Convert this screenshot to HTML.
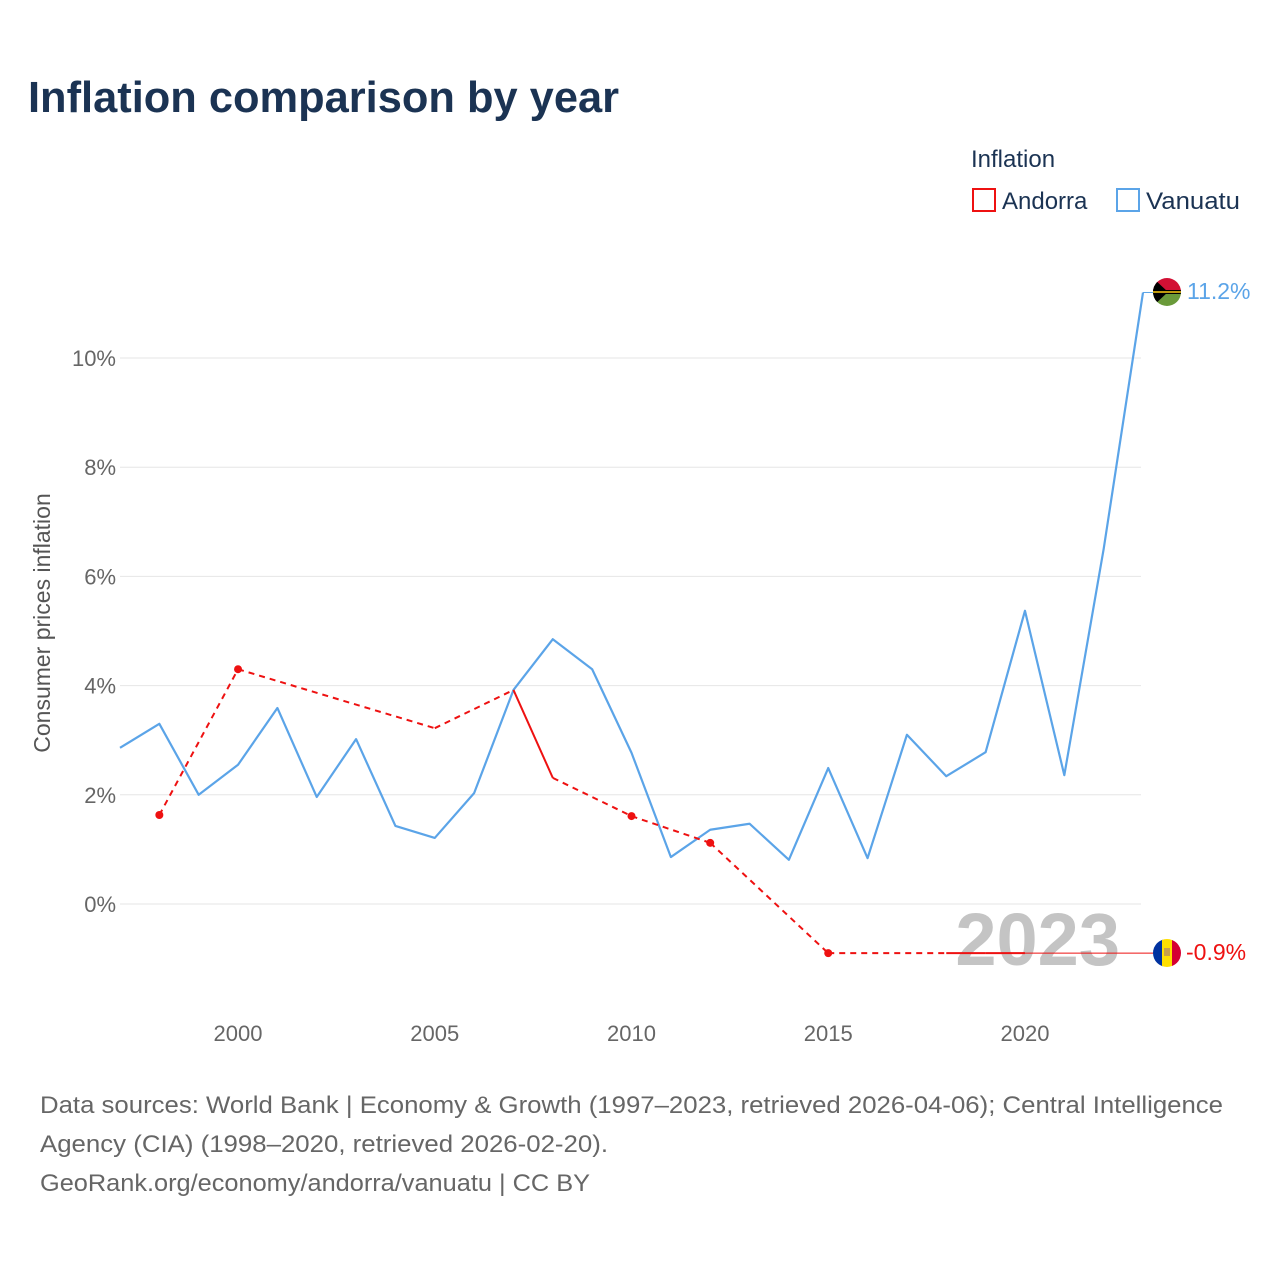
<!DOCTYPE html>
<html><head><meta charset="utf-8"><style>
body{margin:0;background:#fff;font-family:"Liberation Sans",sans-serif;}
svg text{font-family:"Liberation Sans",sans-serif;}
</style></head><body>
<svg width="1280" height="1280" xmlns="http://www.w3.org/2000/svg" id="chart">
<text x="28" y="112" font-size="44" font-weight="bold" fill="#1b3353" textLength="591" lengthAdjust="spacingAndGlyphs">Inflation comparison by year</text>
<g>
<text x="971" y="167" font-size="24" fill="#1b3353">Inflation</text>
<g><rect x="973" y="189" width="22" height="22" fill="none" stroke="#ee1111" stroke-width="2"/><text x="1002" y="209" font-size="24" fill="#1b3353">Andorra</text></g>
<g><rect x="1117" y="189" width="22" height="22" fill="none" stroke="#5ba4e8" stroke-width="2"/><text x="1146" y="209" font-size="24" fill="#1b3353" textLength="94" lengthAdjust="spacingAndGlyphs">Vanuatu</text></g>
</g>
<g id="grid"></g>
<g id="yticks"></g>
<g id="xticks"></g>
<text transform="translate(50,623) rotate(-90)" text-anchor="middle" font-size="23" fill="#555">Consumer prices inflation</text>
<text x="1120" y="965" text-anchor="end" font-size="74" font-weight="bold" fill="#c4c4c4">2023</text>
<g id="series"></g>
<g>
<clipPath id="c1"><circle cx="1167" cy="292" r="14"/></clipPath>
<g clip-path="url(#c1)"><rect x="1153" y="278" width="28" height="14" fill="#d21034"/><rect x="1153" y="292" width="28" height="14" fill="#6a9a3a"/><rect x="1153" y="290" width="28" height="4" fill="#000"/><polygon points="1153,278 1168,292 1153,306" fill="#000"/><line x1="1153" y1="292" x2="1181" y2="292" stroke="#fdce12" stroke-width="1.5"/></g></g>
<g>
<clipPath id="c2"><circle cx="1167" cy="953" r="14"/></clipPath>
<g clip-path="url(#c2)"><rect x="1153" y="939" width="10" height="28" fill="#0032a0"/><rect x="1162" y="939" width="10" height="28" fill="#fedf00"/><rect x="1172" y="939" width="10" height="28" fill="#d50032"/><rect x="1164" y="948" width="6" height="8" fill="#c7a04a"/></g></g>
<text x="1187" y="299" font-size="23" fill="#5ba4e8">11.2%</text>
<text x="1186" y="960" font-size="23" fill="#ee1111">-0.9%</text>
<g font-size="24" fill="#666">
<text x="40" y="1113" textLength="1183" lengthAdjust="spacingAndGlyphs">Data sources: World Bank | Economy &amp; Growth (1997–2023, retrieved 2026-04-06); Central Intelligence</text>
<text x="40" y="1152" textLength="568" lengthAdjust="spacingAndGlyphs">Agency (CIA) (1998–2020, retrieved 2026-02-20).</text>
<text x="40" y="1191" textLength="550" lengthAdjust="spacingAndGlyphs">GeoRank.org/economy/andorra/vanuatu | CC BY</text>
</g>
</svg>
<script>
const yTicks=[0,2,4,6,8,10];
const xTicks=[2000,2005,2010,2015,2020];
const vanYears=[1997,1998,1999,2000,2001,2002,2003,2004,2005,2006,2007,2008,2009,2010,2011,2012,2013,2014,2015,2016,2017,2018,2019,2020,2021,2022,2023];
const vanValues=[2.86,3.30,2.00,2.55,3.59,1.96,3.02,1.43,1.21,2.03,3.92,4.85,4.30,2.77,0.86,1.36,1.47,0.81,2.49,0.84,3.10,2.34,2.78,5.37,2.36,6.5,11.2];
const andYears=[1998,2000,2005,2007,2008,2010,2012,2015,2018,2019,2020];
const andValues=[1.63,4.30,3.22,3.92,2.31,1.61,1.12,-0.9,-0.9,-0.9,-0.9];
const NS="http://www.w3.org/2000/svg";
const X=y=>120+(y-1997)*(1143-120)/26;
const Y=v=>904-v*54.6;
function mk(t,a,p){const e=document.createElementNS(NS,t);for(const k in a)e.setAttribute(k,a[k]);p.appendChild(e);return e;}
const grid=document.getElementById('grid'),yt=document.getElementById('yticks'),xt=document.getElementById('xticks'),ser=document.getElementById('series');
yTicks.forEach(v=>{
 const l=mk('line',{x1:120,x2:1141,y1:Y(v),y2:Y(v),stroke:'#e6e6e6','stroke-width':1},grid);
 
 
 const t=mk('text',{x:116,y:Y(v)+8,'text-anchor':'end','font-size':22,fill:'#666'},yt);
 t.textContent=v+'%';
 
 
});
xTicks.forEach(y=>{
 const t=mk('text',{x:X(y),y:1041,'text-anchor':'middle','font-size':22,fill:'#666'},xt);
 t.textContent=y;
 
 
});
const vp=mk('polyline',{points:vanYears.map((y,i)=>X(y)+','+Y(vanValues[i])).join(' '),fill:'none',stroke:'#5ba4e8','stroke-width':2.2,'stroke-linejoin':'round'},ser);


const vc=mk('line',{x1:X(2023),y1:Y(vanValues[vanValues.length-1]),x2:1155,y2:Y(vanValues[vanValues.length-1]),stroke:'#5ba4e8','stroke-width':1},ser);


for(let i=0;i<andYears.length-1;i++){
 const gap=andYears[i+1]-andYears[i]>1;
 const s=mk('line',{x1:X(andYears[i]),y1:Y(andValues[i]),x2:X(andYears[i+1]),y2:Y(andValues[i+1]),stroke:'#ee1111','stroke-width':2,'stroke-dasharray':gap?'6,5':'none'},ser);
 
 
}
andYears.forEach((y,i)=>{
 const prev=andYears.includes(y-1),next=andYears.includes(y+1);
 if(!prev&&!next&&y!==2005&&y!==2007){
  const c=mk('circle',{cx:X(y),cy:Y(andValues[i]),r:4,fill:'#ee1111'},ser);
  
  
 }
});
const last=andValues[andValues.length-1];
const ac=mk('line',{x1:X(andYears[andYears.length-1]),y1:Y(last),x2:1155,y2:Y(last),stroke:'#ee1111','stroke-width':1},ser);


</script>
</body></html>
